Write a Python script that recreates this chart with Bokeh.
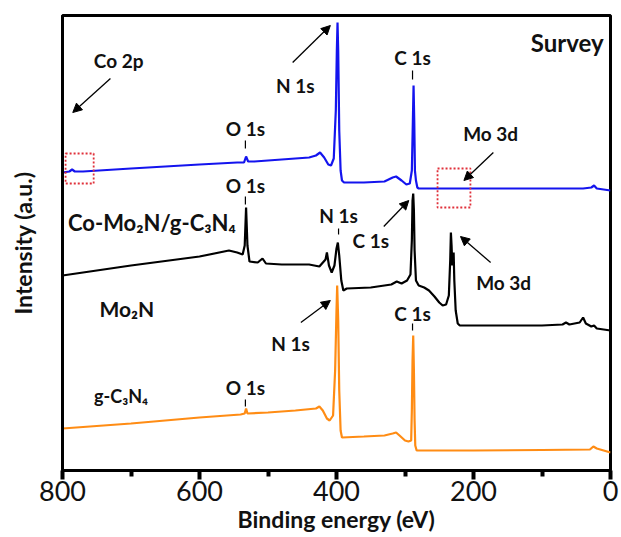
from bokeh.plotting import figure
from bokeh.models import Range1d, FixedTicker, Arrow, NormalHead, BoxAnnotation
from bokeh.core.properties import value
from bokeh.embed import file_html
from bokeh.resources import INLINE

# ---------------- data ----------------
# Co-Mo2N/g-C3N4 (blue)
blue_energy = [800, 790, 786, 782, 770, 700, 600, 545, 535, 532, 529, 520, 480, 440, 430,
               424, 418, 412, 408, 404, 401, 399.5, 398.5, 397.5, 396, 394, 392, 389, 360, 330,
               318, 313, 305, 298, 293, 290, 288.5, 287.5, 286.5, 285.5, 284, 282, 280, 200,
               100, 40, 28, 24, 20, 10, 0]
blue_intensity = [298, 299, 301, 299, 299, 302, 306, 308, 308, 314, 309, 309, 311, 313, 315,
                  318, 313, 306, 305, 312, 360, 420, 448, 420, 340, 300, 290, 288, 288, 289,
                  293, 294, 290, 286, 287, 300, 350, 385, 350, 300, 290, 283, 282, 282,
                  282, 282, 283, 285, 282, 281, 280]

# Mo2N (black)
black_energy = [800, 700, 600, 557, 545, 537, 534, 532, 530, 527, 515, 508, 503, 480, 440,
                425, 416, 414, 411, 407, 403, 400, 398, 396, 393, 390, 385, 350, 320, 312,
                305, 297, 292, 290, 289, 288, 287, 286, 284, 280, 272, 265, 257, 250, 245,
                240, 236, 234, 233, 232, 231, 230, 229, 228, 226, 223, 220, 150, 100, 70,
                65, 60, 45, 40, 36, 28, 24, 20, 10, 0]
black_intensity = [195, 205, 214, 220, 218, 216, 225, 263, 225, 209, 208, 212, 207, 206, 206,
                   204, 211, 218, 205, 198, 205, 222, 228, 215, 190, 180, 182, 183, 186, 189,
                   187, 190, 196, 230, 270, 277, 260, 220, 190, 185, 183, 180, 174, 168, 165,
                   166, 175, 210, 238, 225, 205, 215, 218, 190, 160, 147, 145, 145, 145, 146,
                   148, 146, 148, 153, 147, 144, 145, 142, 141, 140]

# g-C3N4 (orange)
orange_energy = [800, 700, 600, 540, 534, 532, 530, 500, 460, 430, 425, 420, 414, 410, 405,
                 402, 400, 399, 397.5, 396, 394, 392, 360, 330, 318, 313, 308, 300, 295, 291,
                 290, 289, 288, 287, 286, 285, 283, 200, 100, 30, 25, 20, 10, 0]
orange_intensity = [42, 47, 53, 56, 57, 62, 57, 58, 60, 62, 64, 60, 52, 50, 55,
                    100, 160, 185, 150, 80, 40, 33, 34, 35, 37, 38, 35, 30, 29, 30,
                    60, 110, 135, 100, 50, 25, 20, 20, 20.5, 21, 24, 22, 20, 18]

x_ticks = [800, 600, 400, 200, 0]
x_minor_ticks = [700, 500, 300, 100]

FONT = value("Lato")

p = figure(width=621, height=537, x_range=Range1d(800, 0), y_range=Range1d(0, 455),
           output_backend="svg", toolbar_location=None,
           min_border_left=62, min_border_right=11, min_border_top=15, min_border_bottom=67)
p.background_fill_color = "white"
p.border_fill_color = "white"
p.outline_line_color = "black"
p.outline_line_width = 3
p.outline_line_alpha = 1
p.grid.visible = False

# x axis
xa = p.xaxis[0]
xa.ticker = FixedTicker(ticks=x_ticks, minor_ticks=x_minor_ticks)
xa.axis_line_width = 3
xa.axis_line_color = "black"
xa.major_tick_line_color = "black"
xa.minor_tick_line_color = "black"
xa.major_tick_line_width = 4
xa.minor_tick_line_width = 4
xa.major_tick_in = 0
xa.major_tick_out = 9
xa.minor_tick_in = 0
xa.minor_tick_out = 6
xa.major_label_text_font = "Lato"
xa.major_label_text_font_size = "27px"
xa.major_label_text_color = "#111111"
xa.major_label_standoff = 1
xa.axis_label = "Binding energy (eV)"
xa.axis_label_text_font = "Lato"
xa.axis_label_text_font_style = "bold"
xa.axis_label_text_font_size = "23px"
xa.axis_label_text_color = "#111111"
xa.axis_label_standoff = 1

# y axis
ya = p.yaxis[0]
ya.ticker = FixedTicker(ticks=[])
ya.axis_line_width = 3
ya.axis_line_color = "black"
ya.major_tick_in = 0
ya.major_tick_out = 0
ya.minor_tick_in = 0
ya.minor_tick_out = 0
ya.axis_label = "Intensity (a.u.)"
ya.axis_label_text_font = "Lato"
ya.axis_label_text_font_style = "bold"
ya.axis_label_text_font_size = "23px"
ya.axis_label_text_color = "#111111"
ya.axis_label_standoff = 26

# curves
p.line(orange_energy, orange_intensity, line_color="#ff8c14", line_width=2.2)
p.line(black_energy, black_intensity, line_color="black", line_width=2.2)
p.line(blue_energy, blue_intensity, line_color="#1414ee", line_width=2.2)

# red dotted boxes
for l, r, b, t in [(795.5, 754.5, 287, 317), (252.5, 204.5, 263, 302)]:
    p.add_layout(BoxAnnotation(left=l, right=r, bottom=b, top=t, fill_alpha=0,
                               line_color="#e0303a", line_alpha=1, line_width=1.8,
                               line_dash="2 2"))

# peak labels
lab_x = [718, 460, 289, 533, 175, 533, 350, 397, 156, 467, 289, 533]
lab_y = [410, 385, 413, 342, 337, 285, 230, 255, 188, 127, 157, 83]
lab_t = ["Co 2p", "N 1s", "C 1s", "O 1s", "Mo 3d", "O 1s", "C 1s", "N 1s", "Mo 3d",
         "N 1s", "C 1s", "O 1s"]
p.text(lab_x, lab_y, text=lab_t, text_font=FONT, text_font_style="bold",
       text_font_size="19px", text_align="center", text_baseline="middle", text_color="#111111")

# sample names
p.text([792], [248], text=["Co-Mo₂N/g-C₃N₄"], text_font=FONT, text_font_size="22px",
       text_font_style="bold", text_align="left", text_baseline="middle", text_color="#111111")
p.text([746], [162], text=["Mo₂N"], text_font=FONT, text_font_size="21px",
       text_font_style="bold", text_align="left", text_baseline="middle", text_color="#111111")
p.text([754], [75], text=["g-C₃N₄"], text_font=FONT, text_font_size="18px",
       text_font_style="bold", text_align="left", text_baseline="middle", text_color="#111111")
p.text([10], [428], text=["Survey"], text_font=FONT, text_font_size="24px",
       text_font_style="bold", text_align="right", text_baseline="middle", text_color="#111111")

# small marker ticks under labels
p.segment(x0=[289, 533, 533, 397, 289, 533], y0=[400, 330, 274, 242, 147, 71],
          x1=[289, 533, 533, 397, 289, 533], y1=[391, 322, 266, 236, 140, 64],
          line_color="black", line_width=1.2)

# arrows
arrows = [((730, 392), (785, 358)), ((464, 408), (409, 445)), ((171, 318), (214, 290)),
          ((331, 244), (294.5, 270)), ((175, 208), (219, 234)), ((452, 148), (409, 170))]
for (x0, y0), (x1, y1) in arrows:
    p.add_layout(Arrow(x_start=x0, y_start=y0, x_end=x1, y_end=y1, line_width=1.3,
                       line_color="black",
                       end=NormalHead(size=9, fill_color="black", line_color="black")))

open("out.html", "w").write(file_html(p, INLINE))
